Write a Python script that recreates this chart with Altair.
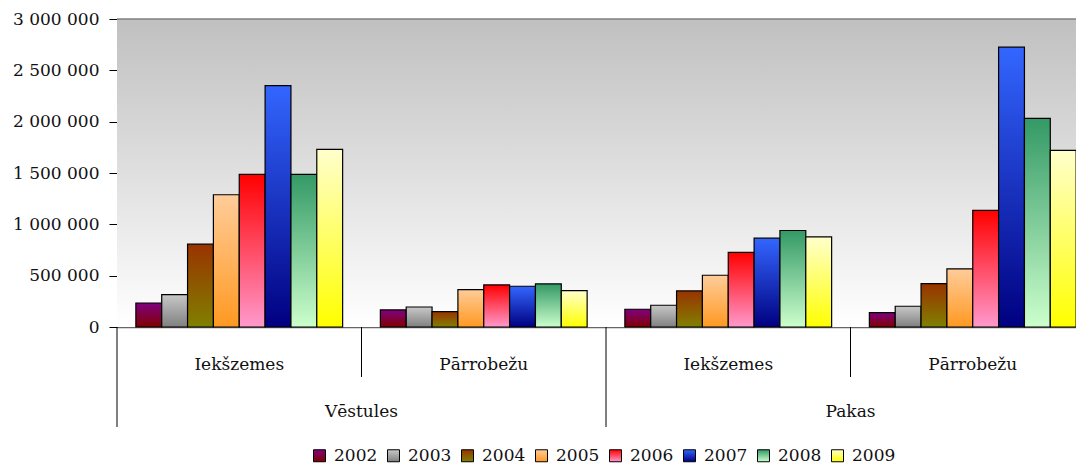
import altair as alt
import pandas as pd

# ---- data ----
years = ["2002", "2003", "2004", "2005", "2006", "2007", "2008", "2009"]
outer_groups = ["Vēstules", "Vēstules", "Pakas", "Pakas"]
inner_groups = ["Iekšzemes", "Pārrobežu", "Iekšzemes", "Pārrobežu"]

vestules_iekszemes = [234000, 316000, 807000, 1288000, 1487000, 2351000, 1487000, 1731000]
vestules_parrobezu = [166000, 195000, 150000, 365000, 410000, 397000, 420000, 355000]
pakas_iekszemes = [173000, 212000, 351000, 504000, 726000, 865000, 940000, 878000]
pakas_parrobezu = [140000, 202000, 423000, 566000, 1136000, 2726000, 2033000, 1721000]

y_ticks = [0, 500000, 1000000, 1500000, 2000000, 2500000, 3000000]

# gradient colours (top -> bottom) per year
top_colors = ["#800080", "#c8c8c8", "#993300", "#ffcc99", "#ff0000", "#3366ff", "#339966", "#ffffcc"]
bottom_colors = ["#800000", "#808080", "#808000", "#ff9922", "#ff99cc", "#000080", "#ccffcc", "#ffff00"]

# ---- tables ----
series = [vestules_iekszemes, vestules_parrobezu, pakas_iekszemes, pakas_parrobezu]
cats = [f"{o}|{i}" for o, i in zip(outer_groups, inner_groups)]
rows = []
for c, o, i, vals in zip(cats, outer_groups, inner_groups, series):
    for y, v in zip(years, vals):
        rows.append({"cat": c, "outer": o, "inner": i, "year": y, "value": v})
df = pd.DataFrame(rows)

df_inner = pd.DataFrame({"cat": cats, "inner": inner_groups})
df_outer = pd.DataFrame({"cat": [cats[0], cats[2]], "outer": [outer_groups[0], outer_groups[2]]})
df_inner_sep = pd.DataFrame({"cat": [cats[1], cats[3]]})
df_outer_sep = pd.DataFrame({"cat": [cats[0], cats[2]]})

W = 959
H = 308
FONT = "DejaVu Serif"
FS = 17
TXT = "#111111"


def grad(top, bottom):
    return alt.ExprRef(
        expr=("{gradient: 'linear', x1: 0, y1: 0, x2: 0, y2: 1, stops: ["
              f"{{offset: 0, color: '{top}'}}, {{offset: 1, color: '{bottom}'}}]}}")
    )


fill_range = [grad(t, b) for t, b in zip(top_colors, bottom_colors)]

xscale = alt.Scale(domain=cats, range=[0, 978], paddingInner=0, paddingOuter=0)
xaxis = alt.Axis(labels=False, ticks=False, title=None, domainColor="#666666", domainWidth=1.5)

background = alt.Chart(pd.DataFrame({"a": [0]})).mark_rect(
    fill=alt.Gradient(
        gradient="linear", x1=0, y1=0, x2=0, y2=1,
        stops=[alt.GradientStop(offset=0, color="#c0c0c0"),
               alt.GradientStop(offset=1, color="#ffffff")],
    )
).encode(x=alt.value(0), x2=alt.value(W), y=alt.value(0), y2=alt.value(H))

top_border = alt.Chart(pd.DataFrame({"a": [0]})).mark_rule(color="#808080", strokeWidth=1.5).encode(
    x=alt.value(0), x2=alt.value(W), y=alt.value(0)
)

bars = alt.Chart(df).mark_bar(stroke="black", strokeWidth=1.2).encode(
    x=alt.X("cat:N", scale=xscale, axis=xaxis),
    xOffset=alt.XOffset("year:N", scale=alt.Scale(domain=years, paddingInner=0, paddingOuter=0.73)),
    y=alt.Y(
        "value:Q",
        scale=alt.Scale(domain=[0, 3000000], nice=False),
        axis=alt.Axis(
            values=y_ticks,
            labelExpr="replace(replace(format(datum.value, ','), ',', ' '), ',', ' ')",
            tickSize=8, labelPadding=10, domainColor="black", tickColor="black",
            labelFont=FONT, labelFontSize=FS, labelColor=TXT, grid=False, title=None,
        ),
    ),
    fill=alt.Fill(
        "year:N",
        scale=alt.Scale(domain=years, range=fill_range),
        legend=alt.Legend(
            orient="none", legendX=194, legendY=428, direction="horizontal", title=None,
            symbolType="square", symbolSize=144, symbolStrokeColor="black", symbolStrokeWidth=1,
            labelFont=FONT, labelFontSize=FS, labelColor=TXT, labelOffset=6, columnPadding=7,
        ),
    ),
)

inner_text = alt.Chart(df_inner).mark_text(font=FONT, fontSize=FS, color=TXT, baseline="middle").encode(
    x=alt.X("cat:N", scale=xscale, axis=xaxis, bandPosition=0.5),
    y=alt.value(H + 38),
    text="inner:N",
)

outer_text = alt.Chart(df_outer).mark_text(font=FONT, fontSize=FS, color=TXT, baseline="middle").encode(
    x=alt.X("cat:N", scale=xscale, axis=xaxis, bandPosition=1),
    y=alt.value(H + 85),
    text="outer:N",
)

inner_sep = alt.Chart(df_inner_sep).mark_rule(color="black", strokeWidth=1).encode(
    x=alt.X("cat:N", scale=xscale, axis=xaxis, bandPosition=0),
    y=alt.value(H), y2=alt.value(H + 50),
)

outer_sep = alt.Chart(df_outer_sep).mark_rule(color="black", strokeWidth=1).encode(
    x=alt.X("cat:N", scale=xscale, axis=xaxis, bandPosition=0),
    y=alt.value(H), y2=alt.value(H + 100),
)

chart = alt.layer(background, top_border, bars, inner_text, outer_text, inner_sep, outer_sep).properties(
    width=W, height=H,
    autosize=alt.AutoSizeParams(type="none"),
    padding={"left": 109, "top": 11, "right": 0, "bottom": 139},
).configure(font=FONT).configure_view(strokeWidth=0)

chart.save("out.html", embed_options={"renderer": "svg", "actions": False})
